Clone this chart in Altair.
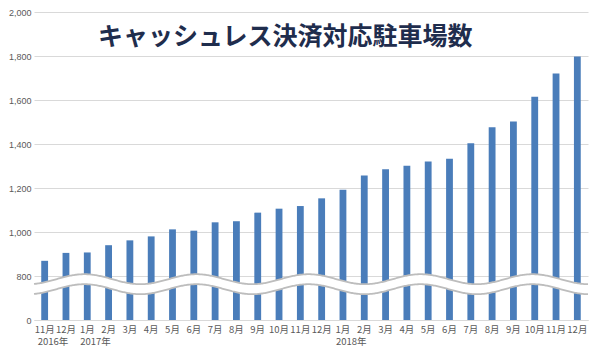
import altair as alt
import numpy as np
import pandas as pd

# ---- data ----
years = ["2016"] * 2 + ["2017"] * 12 + ["2018"] * 12
months = [11, 12] + list(range(1, 13)) + list(range(1, 13))
counts = [869, 905, 907, 940, 962, 980, 1012, 1006, 1044, 1049, 1088, 1106, 1118,
          1153, 1192, 1257, 1285, 1301, 1320, 1333, 1403, 1476, 1502, 1615, 1721, 1798]
y_ticks = [0, 800, 1000, 1200, 1400, 1600, 1800, 2000]
year_labels = ["2016年", "2017年", "2018年"]
year_keys = ["2016年11月", "2017年1月", "2018年1月"]
title_text = "キャッシュレス決済対応駐車場数"

keys = [f"{y}年{m}月" for y, m in zip(years, months)]
df = pd.DataFrame({"key": keys, "count": counts})

W, H = 554, 308
BAR = "#4a7dba"
GRID = "#d9d9d9"
LABEL = "#595959"
BREAK = H * 6 / 7

xscale = alt.Scale(domain=keys, paddingInner=0.68)

bars = alt.Chart(df).mark_bar(color=BAR).encode(
    x=alt.X("key:N", scale=xscale, sort=None, title=None,
            axis=alt.Axis(labelExpr="split(datum.label, '年')[1]", labelAngle=0,
                          labelFont="Noto Sans CJK JP", labelFontSize=9.5,
                          labelColor=LABEL, ticks=False, labelPadding=4,
                          labelOverlap=False, domainColor=GRID, grid=False)),
    y=alt.Y("count:Q", title=None,
            scale=alt.Scale(domain=[0, 800, 2000], range=[H, BREAK, 0], nice=False),
            axis=alt.Axis(values=y_ticks, labelExpr="format(datum.value, ',')",
                          domain=False, ticks=False,
                          labelFont="Liberation Sans", labelFontSize=9, labelColor=LABEL,
                          labelPadding=3, gridColor=GRID, gridWidth=1)),
)

# ---- decorative break wave (in plot pixel coordinates) ----
sx = W / 561.0
wx = np.arange(0, W + 1, 1.0)
wy = BREAK + 3.2 - 5 * np.cos(2 * np.pi * (wx - 51 * sx) / (113.5 * sx))
wave = pd.DataFrame({"x": wx, "y1": wy, "y2": wy + 10})
wxs = alt.Scale(domain=[0, W], nice=False, zero=False)
wys = alt.Scale(domain=[0, H], reverse=True, nice=False, zero=False)

wave_fill = alt.Chart(wave).mark_area(color="white", opacity=1).encode(
    x=alt.X("x:Q", scale=wxs, axis=None),
    y=alt.Y("y1:Q", scale=wys, axis=None),
    y2="y2:Q",
)
wave_top = alt.Chart(wave).mark_line(color="#bdbdbd", strokeWidth=1.8).encode(
    x=alt.X("x:Q", scale=wxs, axis=None),
    y=alt.Y("y1:Q", scale=wys, axis=None),
)
wave_bot = alt.Chart(wave).mark_line(color="#bdbdbd", strokeWidth=1.8).encode(
    x=alt.X("x:Q", scale=wxs, axis=None),
    y=alt.Y("y2:Q", scale=wys, axis=None),
)

title = alt.Chart(pd.DataFrame({"t": [title_text]})).mark_text(
    font="Noto Sans CJK JP", fontSize=25, fontWeight="bold", color="#1f2d4d",
    align="left", baseline="middle"
).encode(text="t:N", x=alt.value(64), y=alt.value(25))

yr = alt.Chart(pd.DataFrame({"key": year_keys, "lab": year_labels})).mark_text(
    font="Noto Sans CJK JP", fontSize=9.5, color=LABEL, align="left",
    baseline="middle", dx=-7
).encode(
    x=alt.X("key:N", scale=xscale, sort=None, axis=None),
    y=alt.value(H + 22),
    text="lab:N",
)

chart = alt.layer(bars, wave_fill, wave_top, wave_bot, title, yr).resolve_scale(
    x="independent", y="independent"
).properties(
    width=W, height=H,
    padding={"left": 26, "top": 4, "right": 4, "bottom": 28},
    autosize=alt.AutoSizeParams(type="none"),
).configure_view(stroke=None)

chart.save("out.html", embed_options={"renderer": "svg", "actions": False})
